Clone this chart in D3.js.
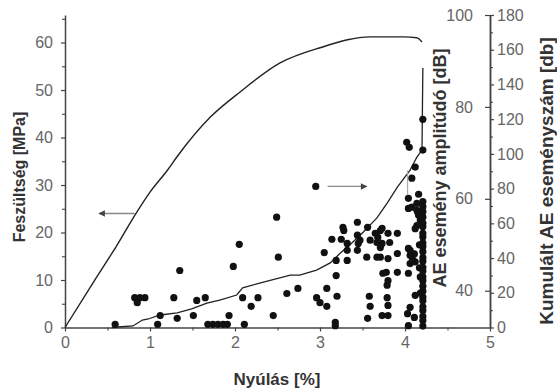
<!DOCTYPE html>
<html>
<head>
<meta charset="utf-8">
<script src="https://cdn.jsdelivr.net/npm/d3@7"></script>
<style>
  body { margin: 0; background: #fff; }
  svg { display: block; font-family: 'Liberation Sans', Arial, sans-serif; }
</style>
</head>
<body>
<div id="chart"></div>
<script>
// stress-strain curve (left axis)
const stressStrain = [0, 0.35, 0.6, 0.8, 1.0, 1.2, 1.32, 1.71, 2.06, 2.53, 3.0, 3.59, 3.98, 4.14, 4.2];
const stressValues = [0, 10, 17, 23, 28.5, 33, 36, 44.3, 49.6, 55.7, 58.9, 61.2, 61.2, 61.0, 60.1];

// cumulative AE event count (outer right axis)
const cumulativeStrain = [0.55, 0.62, 0.8, 0.91, 0.98, 1.12, 1.32, 1.49, 1.67, 1.82, 2.02, 2.09, 2.29, 2.65, 2.76, 2.96, 3.12, 3.24, 3.35, 3.51, 3.67, 3.79, 3.91, 4.06, 4.14, 4.2, 4.21];
const cumulativeCount = [0, 0.3, 0.9, 4.3, 4.9, 7.2, 8.4, 10.7, 14.1, 15.8, 18.7, 22.8, 25.6, 30.2, 30.2, 33.1, 37.2, 42.9, 47.5, 55.0, 63.1, 71.7, 80.9, 90.7, 98.2, 102.2, 149.5];

// AE events: [strain %, amplitude dB] (inner right axis)
const aeEvents = [
  [0.59, 32.7], [0.82, 38.5], [0.88, 38.5], [0.94, 38.5], [0.85, 37.4],
  [1.09, 32.7], [1.12, 34.6], [1.28, 38.5], [1.32, 34.0], [1.35, 44.4],
  [1.51, 34.6], [1.55, 37.9], [1.65, 38.5], [1.68, 32.7], [1.74, 32.7],
  [1.80, 32.7], [1.86, 32.7], [1.91, 32.7], [1.93, 34.6], [1.98, 45.3],
  [2.05, 50.1], [2.09, 38.5], [2.11, 32.7], [2.19, 36.6], [2.27, 38.5],
  [2.45, 34.6], [2.49, 56.0], [2.51, 47.3], [2.61, 39.4], [2.74, 40.5],
  [2.95, 62.7], [2.96, 38.5], [3.00, 37.4], [3.08, 36.6], [3.08, 40.5],
  [3.20, 38.8], [3.18, 33.1], [3.18, 32.4], [3.05, 48.3], [3.14, 51.2],
  [3.19, 46.6], [3.19, 43.3], [3.25, 51.2], [3.27, 53.8], [3.28, 53.1],
  [3.32, 50.3], [3.32, 46.6], [3.32, 48.8], [3.44, 54.9], [3.44, 52.1],
  [3.45, 50.3], [3.44, 48.8], [3.47, 51.0], [3.55, 47.3], [3.56, 53.8],
  [3.59, 51.0], [3.65, 52.5], [3.67, 50.5], [3.67, 47.3], [3.58, 38.8],
  [3.59, 36.6], [3.56, 34.0], [3.71, 53.1], [3.68, 51.6], [3.71, 49.4],
  [3.71, 47.3], [3.78, 44.0], [3.91, 44.0], [3.79, 41.2], [3.73, 34.6],
  [3.80, 34.6], [3.79, 38.5], [4.04, 43.8], [4.06, 47.7], [4.04, 49.2],
  [4.04, 57.9], [4.02, 72.3], [4.05, 71.2], [4.21, 77.3], [4.21, 70.6],
  [4.08, 64.5], [4.12, 66.9], [4.04, 60.1], [4.14, 59.0], [4.15, 57.1],
  [3.73, 53.6], [3.80, 52.5], [3.91, 52.5], [3.73, 50.3], [3.82, 50.5],
  [3.80, 47.0], [3.91, 48.1], [3.74, 43.8], [3.80, 42.2], [4.06, 45.9],
  [3.80, 36.8], [4.04, 32.4], [4.06, 36.4], [4.12, 39.0],
  [4.08, 58.2], [4.14, 57.5], [4.16, 56.4], [4.18, 55.3], [4.14, 54.2],
  [4.12, 53.5], [4.06, 48.8], [4.11, 48.0], [4.09, 46.8], [4.12, 46.3],
  [4.18, 43.0], [4.18, 39.5], [4.03, 35.0], [4.11, 34.2],
  [4.16, 61.0], [4.17, 50.0], [4.17, 45.0],
  [4.21, 32.3], [4.21, 33.5], [4.21, 34.4], [4.21, 35.7], [4.21, 36.5],
  [4.21, 37.8], [4.21, 38.6], [4.21, 39.9], [4.21, 41.0], [4.21, 42.2],
  [4.21, 43.0], [4.21, 44.3], [4.21, 45.1], [4.21, 46.4], [4.21, 47.2],
  [4.21, 48.5], [4.21, 49.6], [4.21, 50.4], [4.21, 51.7], [4.21, 52.5],
  [4.21, 53.9], [4.21, 54.7], [4.21, 56.0], [4.21, 57.2], [4.21, 58.3],
  [4.21, 59.4]
];

// tick values
const strainTicks = [0, 1, 2, 3, 4, 5];
const strainMinor = [0.5, 1.5, 2.5, 3.5, 4.5];
const stressTicks = [0, 10, 20, 30, 40, 50, 60];
const stressMinor = [5, 15, 25, 35, 45, 55, 65];
const amplitudeTicks = [40, 60, 80, 100];
const countTicks = [0, 20, 40, 60, 80, 100, 120, 140, 160, 180];
const countMinor = [10, 30, 50, 70, 90, 110, 130, 150, 170];

// arrows pointing to the curve's axis, plus a small grey marker
const stressArrow = { x1: 0.82, x2: 0.4, y: 24 };
const amplitudeArrow = { x1: 3.09, x2: 3.55, y: 62.7 };
const greyMark = { x: 4.03, y1: 60.8, y2: 66.2 };

const width = 557;
const height = 390;

const x = d3.scaleLinear().domain([0, 5]).range([65, 490]);
const yStress = d3.scaleLinear().domain([0, 65.8]).range([327.5, 15]);
const yAmp = d3.scaleLinear().domain([32, 100]).range([327.5, 15]);
const yCum = d3.scaleLinear().domain([0, 180]).range([327.5, 15]);

const svg = d3.select('#chart')
  .append('svg')
  .attr('width', width)
  .attr('height', height);

const defs = svg.append('defs');
defs.append('marker')
  .attr('id', 'head')
  .attr('viewBox', '0 0 10 10')
  .attr('refX', 9)
  .attr('refY', 5)
  .attr('markerWidth', 6)
  .attr('markerHeight', 5)
  .attr('orient', 'auto')
  .append('path')
  .attr('d', 'M0,0L10,5L0,10z')
  .attr('fill', '#444');

const styleAxis = (g, fontSize) => {
  g.select('.domain').attr('stroke', '#444').attr('stroke-width', 1.5);
  g.selectAll('.tick line').attr('stroke', '#444').attr('stroke-width', 1.2);
  g.selectAll('.tick text')
    .attr('fill', '#666')
    .style('font-size', fontSize + 'px')
    .style('font-family', "'Liberation Sans', Arial, sans-serif");
};

const minor = (g) => {
  g.select('.domain').remove();
  g.selectAll('.tick line').attr('stroke', '#444').attr('stroke-width', 1.1);
};

// x axis
svg.append('g')
  .attr('transform', `translate(0, ${yStress(0)})`)
  .call(d3.axisBottom(x).tickValues(strainMinor).tickSize(3).tickFormat(''))
  .call(minor);
svg.append('g')
  .attr('transform', `translate(0, ${yStress(0)})`)
  .call(d3.axisBottom(x).tickValues(strainTicks).tickSize(4).tickSizeOuter(0).tickPadding(5).tickFormat(d3.format('d')))
  .call(g => styleAxis(g, 16));

// left stress axis
svg.append('g')
  .attr('transform', `translate(${x(0)}, 0)`)
  .call(d3.axisLeft(yStress).tickValues(stressMinor).tickSize(3).tickFormat(''))
  .call(minor);
svg.append('g')
  .attr('transform', `translate(${x(0)}, 0)`)
  .call(d3.axisLeft(yStress).tickValues(stressTicks).tickSize(4).tickSizeOuter(0).tickPadding(8).tickFormat(d3.format('d')))
  .call(g => styleAxis(g, 16));

// inner right: amplitude axis
svg.append('g')
  .attr('transform', `translate(${x(5)}, 0)`)
  .call(d3.axisLeft(yAmp).tickValues(amplitudeTicks).tickSize(5).tickSizeOuter(0).tickPadding(12).tickFormat(d3.format('d')))
  .call(g => styleAxis(g, 16));

// outer right: cumulative count axis
svg.append('g')
  .attr('transform', `translate(${x(5)}, 0)`)
  .call(d3.axisRight(yCum).tickValues(countMinor).tickSize(3).tickFormat(''))
  .call(minor);
svg.append('g')
  .attr('transform', `translate(${x(5)}, 0)`)
  .call(d3.axisRight(yCum).tickValues(countTicks).tickSize(4).tickSizeOuter(0).tickPadding(3).tickFormat(d3.format('d')))
  .call(g => styleAxis(g, 16));

// stress curve
const stressLine = d3.line()
  .x(d => x(d[0]))
  .y(d => yStress(d[1]))
  .curve(d3.curveMonotoneX);

svg.append('path')
  .datum(d3.zip(stressStrain, stressValues))
  .attr('d', stressLine)
  .attr('fill', 'none')
  .attr('stroke', '#222')
  .attr('stroke-width', 1.4);

// cumulative curve
const cumLine = d3.line()
  .x(d => x(d[0]))
  .y(d => yCum(d[1]));

svg.append('path')
  .datum(d3.zip(cumulativeStrain, cumulativeCount))
  .attr('d', cumLine)
  .attr('fill', 'none')
  .attr('stroke', '#222')
  .attr('stroke-width', 1.3);

// AE amplitude scatter
svg.append('g')
  .selectAll('circle')
  .data(aeEvents)
  .enter()
  .append('circle')
  .attr('cx', d => x(d[0]))
  .attr('cy', d => yAmp(d[1]))
  .attr('r', 3.6)
  .attr('fill', '#111');

// arrows
svg.append('line')
  .attr('x1', x(stressArrow.x1))
  .attr('x2', x(stressArrow.x2))
  .attr('y1', yStress(stressArrow.y))
  .attr('y2', yStress(stressArrow.y))
  .attr('stroke', '#888')
  .attr('stroke-width', 1.3)
  .attr('marker-end', 'url(#head)');

svg.append('line')
  .attr('x1', x(amplitudeArrow.x1))
  .attr('x2', x(amplitudeArrow.x2))
  .attr('y1', yAmp(amplitudeArrow.y))
  .attr('y2', yAmp(amplitudeArrow.y))
  .attr('stroke', '#888')
  .attr('stroke-width', 1.3)
  .attr('marker-end', 'url(#head)');

svg.append('line')
  .attr('x1', x(greyMark.x))
  .attr('x2', x(greyMark.x))
  .attr('y1', yAmp(greyMark.y1))
  .attr('y2', yAmp(greyMark.y2))
  .attr('stroke', '#aaa')
  .attr('stroke-width', 1.2);

// axis titles
svg.append('text')
  .attr('transform', `translate(25, 177) rotate(-90)`)
  .attr('text-anchor', 'middle')
  .attr('font-weight', 'bold')
  .attr('font-size', 16)
  .attr('fill', '#333')
  .text('Feszültség [MPa]');

svg.append('text')
  .attr('x', 277)
  .attr('y', 385)
  .attr('text-anchor', 'middle')
  .attr('font-weight', 'bold')
  .attr('font-size', 17)
  .attr('fill', '#333')
  .text('Nyúlás [%]');

svg.append('text')
  .attr('transform', `translate(446, 168) rotate(-90)`)
  .attr('text-anchor', 'middle')
  .attr('font-weight', 'bold')
  .attr('font-size', 18)
  .attr('fill', '#333')
  .text('AE esemény amplitúdó [dB]');

svg.append('text')
  .attr('transform', `translate(553, 181) rotate(-90)`)
  .attr('text-anchor', 'middle')
  .attr('font-weight', 'bold')
  .attr('font-size', 19)
  .attr('fill', '#333')
  .text('Kumulált AE eseményszám [db]');
</script>
</body>
</html>
